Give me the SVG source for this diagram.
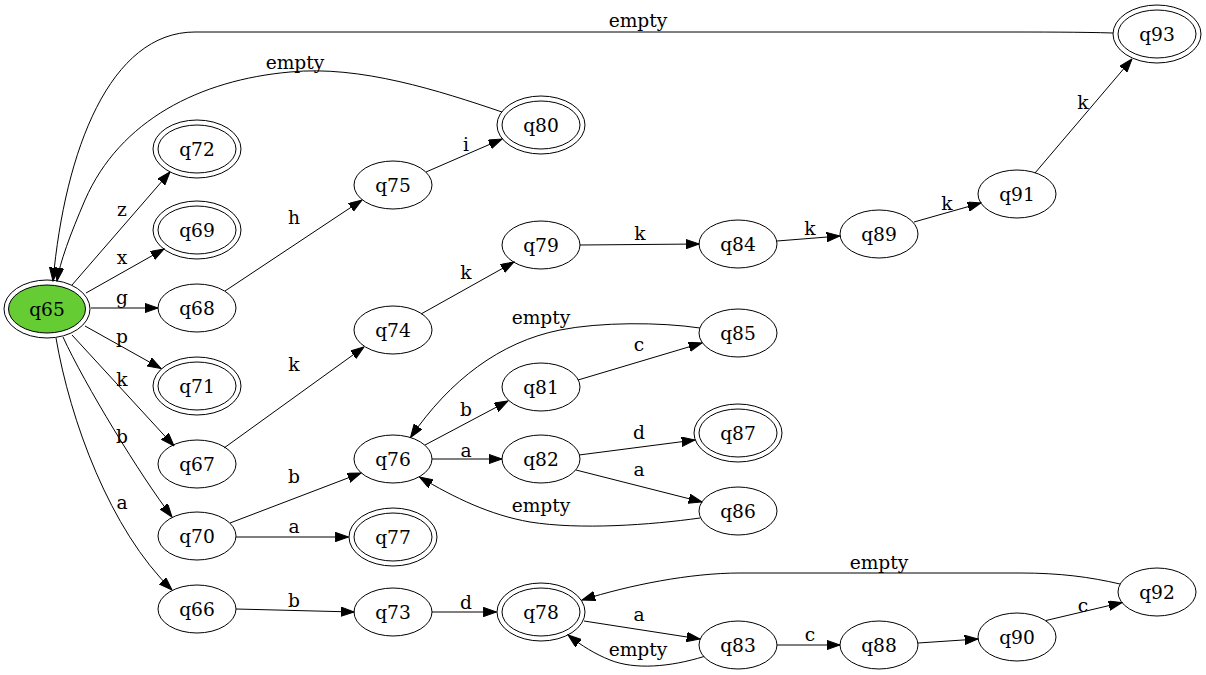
<svg xmlns="http://www.w3.org/2000/svg" width="1206" height="675" viewBox="0 0 1206 675">
<style>
.n ellipse{fill:none;stroke:#000;stroke-width:1}
.n text,.l{font-family:"DejaVu Serif","Liberation Serif",serif;font-size:18.67px;text-anchor:middle;fill:#000}
.e path{fill:none;stroke:#000;stroke-width:1;marker-end:url(#ah)}
</style>
<defs>
<marker id="ah" markerUnits="userSpaceOnUse" markerWidth="14" markerHeight="10" refX="13.3" refY="4.7" orient="auto">
<path d="M0,0 L13.3,4.7 L0,9.4 z" fill="#000" stroke="#000" stroke-width="1"/>
</marker>
</defs>
<rect width="1206" height="675" fill="#fff"/>
<g id="edges" class="e">
<path d="M1113,33 C1080,32 1040,32 1000,32 L195,32 C110,32 65,150 53,281"/>
<path d="M502,112 C440,91 360,65 290,72 C200,80 120,120 85,200 C70,235 60,262 57,281"/>
<path d="M72,285 L170,172"/>
<path d="M86,293 L164,249"/>
<path d="M91,308 L158,308"/>
<path d="M85,326 L161,368.5"/>
<path d="M72,335 L174,446"/>
<path d="M63,337 C85,385 140,475 172,517"/>
<path d="M56,338 C70,420 110,530 172,590"/>
<path d="M225,291 L362,200"/>
<path d="M426,172 L502,139"/>
<path d="M224,448 L364,347"/>
<path d="M421,314 L514,262"/>
<path d="M580,245 L699,244"/>
<path d="M777,241 L840,236"/>
<path d="M914,222 L981,203"/>
<path d="M1035,173 L1132,59"/>
<path d="M230,523 L361,473"/>
<path d="M236,537 L348.5,537"/>
<path d="M425,445 L508,401"/>
<path d="M432,459 L502,459"/>
<path d="M578,380 L702,343"/>
<path d="M700,328 C660,322 600,322 560,330 C500,342 450,380 410.5,437.5"/>
<path d="M579,455 L695,440"/>
<path d="M576,470 L702,502"/>
<path d="M700,518 C650,525 580,530 530,522 C490,515 455,498 419.5,477"/>
<path d="M236,609 L354,612"/>
<path d="M432,612 L496.5,612"/>
<path d="M584,621 L700,639"/>
<path d="M704,656.5 C670,667 635,670 610,660 C595,654 582,646 568,635"/>
<path d="M777,645 L840,645"/>
<path d="M918,643 L978,639"/>
<path d="M1046,620.5 L1122,602.5"/>
<path d="M1120,584 C1090,577 1060,573 1020,573 L740,573 C690,573 630,585 582,600"/>
</g>
<g id="edge-labels">
<text class="l" x="638" y="27">empty</text>
<text class="l" x="295" y="69">empty</text>
<text class="l" x="122" y="216">z</text>
<text class="l" x="122" y="264">x</text>
<text class="l" x="122" y="304">g</text>
<text class="l" x="122" y="343">p</text>
<text class="l" x="122" y="386">k</text>
<text class="l" x="122" y="443">b</text>
<text class="l" x="122" y="509">a</text>
<text class="l" x="294" y="224">h</text>
<text class="l" x="466" y="151">i</text>
<text class="l" x="294" y="371">k</text>
<text class="l" x="466" y="279">k</text>
<text class="l" x="640" y="240">k</text>
<text class="l" x="810" y="235">k</text>
<text class="l" x="947" y="210">k</text>
<text class="l" x="1083" y="109">k</text>
<text class="l" x="294" y="483">b</text>
<text class="l" x="294" y="533">a</text>
<text class="l" x="466" y="416">b</text>
<text class="l" x="466" y="457">a</text>
<text class="l" x="639" y="351">c</text>
<text class="l" x="541" y="324">empty</text>
<text class="l" x="639" y="439">d</text>
<text class="l" x="639" y="476">a</text>
<text class="l" x="541" y="512">empty</text>
<text class="l" x="294" y="607">b</text>
<text class="l" x="466" y="609">d</text>
<text class="l" x="639" y="621">a</text>
<text class="l" x="638" y="656">empty</text>
<text class="l" x="810" y="641">c</text>
<text class="l" x="1083" y="612">c</text>
<text class="l" x="879" y="569">empty</text>
</g>
<g id="q65" class="n"><ellipse cx="47" cy="309" rx="43" ry="29"/><ellipse cx="47" cy="309" rx="38.5" ry="24" style="fill:#66cc33"/><text x="47" y="315.5">q65</text></g>
<g id="q72" class="n"><ellipse cx="197" cy="149" rx="44" ry="29"/><ellipse cx="197" cy="149" rx="39" ry="24"/><text x="197" y="155.5">q72</text></g>
<g id="q69" class="n"><ellipse cx="197" cy="230" rx="44" ry="29"/><ellipse cx="197" cy="230" rx="39" ry="24"/><text x="197" y="236.5">q69</text></g>
<g id="q68" class="n"><ellipse cx="197" cy="308" rx="39" ry="24"/><text x="197" y="314.5">q68</text></g>
<g id="q71" class="n"><ellipse cx="197" cy="386" rx="44" ry="29"/><ellipse cx="197" cy="386" rx="39" ry="24"/><text x="197" y="392.5">q71</text></g>
<g id="q67" class="n"><ellipse cx="197" cy="464" rx="39" ry="24"/><text x="197" y="470.5">q67</text></g>
<g id="q70" class="n"><ellipse cx="197" cy="536" rx="39" ry="24"/><text x="197" y="542.5">q70</text></g>
<g id="q66" class="n"><ellipse cx="197" cy="609" rx="39" ry="24"/><text x="197" y="615.5">q66</text></g>
<g id="q75" class="n"><ellipse cx="393" cy="185" rx="39" ry="24"/><text x="393" y="191.5">q75</text></g>
<g id="q74" class="n"><ellipse cx="393" cy="330" rx="39" ry="24"/><text x="393" y="336.5">q74</text></g>
<g id="q76" class="n"><ellipse cx="393" cy="459" rx="39" ry="24"/><text x="393" y="465.5">q76</text></g>
<g id="q77" class="n"><ellipse cx="393" cy="537" rx="44" ry="29"/><ellipse cx="393" cy="537" rx="39" ry="24"/><text x="393" y="543.5">q77</text></g>
<g id="q73" class="n"><ellipse cx="393" cy="612" rx="39" ry="24"/><text x="393" y="618.5">q73</text></g>
<g id="q80" class="n"><ellipse cx="541" cy="125" rx="44" ry="29"/><ellipse cx="541" cy="125" rx="39" ry="24"/><text x="541" y="131.5">q80</text></g>
<g id="q79" class="n"><ellipse cx="541" cy="245" rx="39" ry="24"/><text x="541" y="251.5">q79</text></g>
<g id="q81" class="n"><ellipse cx="541" cy="387" rx="39" ry="24"/><text x="541" y="393.5">q81</text></g>
<g id="q82" class="n"><ellipse cx="541" cy="459" rx="39" ry="24"/><text x="541" y="465.5">q82</text></g>
<g id="q78" class="n"><ellipse cx="541" cy="612" rx="44" ry="29"/><ellipse cx="541" cy="612" rx="39" ry="24"/><text x="541" y="618.5">q78</text></g>
<g id="q84" class="n"><ellipse cx="738" cy="244" rx="39" ry="24"/><text x="738" y="250.5">q84</text></g>
<g id="q85" class="n"><ellipse cx="738" cy="333" rx="39" ry="24"/><text x="738" y="339.5">q85</text></g>
<g id="q87" class="n"><ellipse cx="738" cy="433" rx="44" ry="29"/><ellipse cx="738" cy="433" rx="39" ry="24"/><text x="738" y="439.5">q87</text></g>
<g id="q86" class="n"><ellipse cx="738" cy="511" rx="39" ry="24"/><text x="738" y="517.5">q86</text></g>
<g id="q83" class="n"><ellipse cx="738" cy="645" rx="39" ry="24"/><text x="738" y="651.5">q83</text></g>
<g id="q89" class="n"><ellipse cx="879" cy="234" rx="39" ry="24"/><text x="879" y="240.5">q89</text></g>
<g id="q88" class="n"><ellipse cx="879" cy="645" rx="39" ry="24"/><text x="879" y="651.5">q88</text></g>
<g id="q91" class="n"><ellipse cx="1017" cy="194" rx="39" ry="24"/><text x="1017" y="200.5">q91</text></g>
<g id="q90" class="n"><ellipse cx="1017" cy="637" rx="39" ry="24"/><text x="1017" y="643.5">q90</text></g>
<g id="q93" class="n"><ellipse cx="1157" cy="34" rx="44" ry="29"/><ellipse cx="1157" cy="34" rx="39" ry="24"/><text x="1157" y="40.5">q93</text></g>
<g id="q92" class="n"><ellipse cx="1157" cy="592" rx="39" ry="24"/><text x="1157" y="598.5">q92</text></g>
</svg>
